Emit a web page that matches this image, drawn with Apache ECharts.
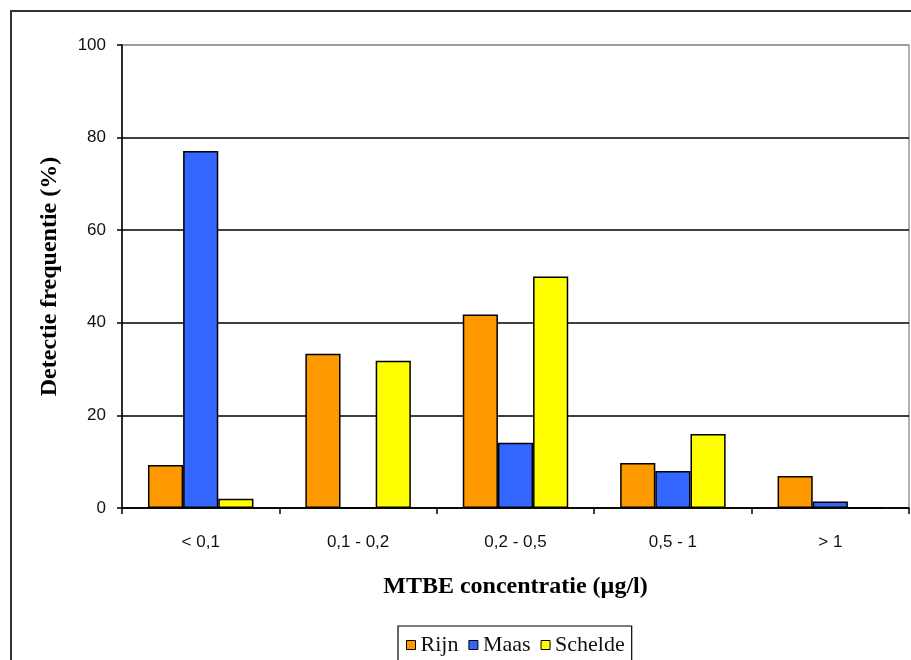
<!DOCTYPE html>
<html>
<head>
<meta charset="utf-8">
<script src="https://cdn.jsdelivr.net/npm/echarts@6/dist/echarts.min.js"></script>
<style>html,body{margin:0;padding:0;background:#fff}#c{width:911px;height:660px}</style>
</head>
<body>
<div id="c"></div>
<script>
var categories = ['< 0,1', '0,1 - 0,2', '0,2 - 0,5', '0,5 - 1', '> 1'];
var rijn = [9.3, 33.3, 41.8, 9.7, 6.9];
var maas = [77.1, 0, 14.1, 8.0, 1.4];
var schelde = [2.0, 31.8, 50.0, 16.0, 0];
var yTicks = [0, 20, 40, 60, 80, 100];
var seriesNames = ['Rijn', 'Maas', 'Schelde'];
var seriesColors = ['#FF9900', '#3366FF', '#FFFF00'];

var chart = echarts.init(document.getElementById('c'));
function mk(name, data, color) {
  return {
    name: name, type: 'bar', data: data,
    barGap: '0%', barCategoryGap: '33%',
    itemStyle: { color: color, borderColor: '#000', borderWidth: 1.5 },
    emphasis: { disabled: true }
  };
}
chart.setOption({
  animation: false,
  graphic: [{
    type: 'rect', z: 0,
    shape: { x: 11, y: 11, width: 1200, height: 1200 },
    style: { fill: 'none', stroke: '#333', lineWidth: 2 }
  }],
  grid: { left: 122, right: 2, top: 45, bottom: 152, show: true, borderColor: '#999', borderWidth: 1.5, backgroundColor: 'transparent' },
  legend: {
    data: seriesNames,
    top: 626, left: 398,
    padding: [8, 7, 30, 8],
    borderColor: '#000', borderWidth: 1.2,
    itemWidth: 9, itemHeight: 9, itemGap: 10,
    icon: 'rect',
    itemStyle: { borderColor: '#000', borderWidth: 1 },
    textStyle: { fontFamily: 'Liberation Serif', fontSize: 22, color: '#111' }
  },
  xAxis: {
    type: 'category', data: categories,
    name: 'MTBE concentratie (µg/l)', nameLocation: 'middle', nameGap: 67,
    nameTextStyle: { fontFamily: 'Liberation Serif', fontWeight: 'bold', fontSize: 24, color: '#000' },
    axisLine: { lineStyle: { color: '#000', width: 1.5 } },
    axisTick: { show: true, length: 6, lineStyle: { color: '#000', width: 1.5 } },
    axisLabel: { fontFamily: 'Liberation Sans', fontSize: 17, color: '#111', margin: 26 }
  },
  yAxis: {
    type: 'value', min: 0, max: 100, interval: 20,
    name: 'Detectie frequentie (%)', nameLocation: 'middle', nameGap: 60,
    nameTextStyle: { fontFamily: 'Liberation Serif', fontWeight: 'bold', fontSize: 24, color: '#000' },
    axisLine: { show: true, lineStyle: { color: '#000', width: 1.5 } },
    axisTick: { show: true, length: 5, lineStyle: { color: '#000', width: 1.5 } },
    axisLabel: { fontFamily: 'Liberation Sans', fontSize: 17, color: '#111', margin: 16,
      formatter: function (v) { return yTicks.indexOf(v) >= 0 ? String(v) : ''; } },
    splitLine: { show: true, lineStyle: { color: ['#000', '#000', '#000', '#000', '#000', '#999'], width: 1.5 } }
  },
  series: [
    mk(seriesNames[0], rijn, seriesColors[0]),
    mk(seriesNames[1], maas, seriesColors[1]),
    mk(seriesNames[2], schelde, seriesColors[2])
  ]
});
</script>
</body>
</html>
